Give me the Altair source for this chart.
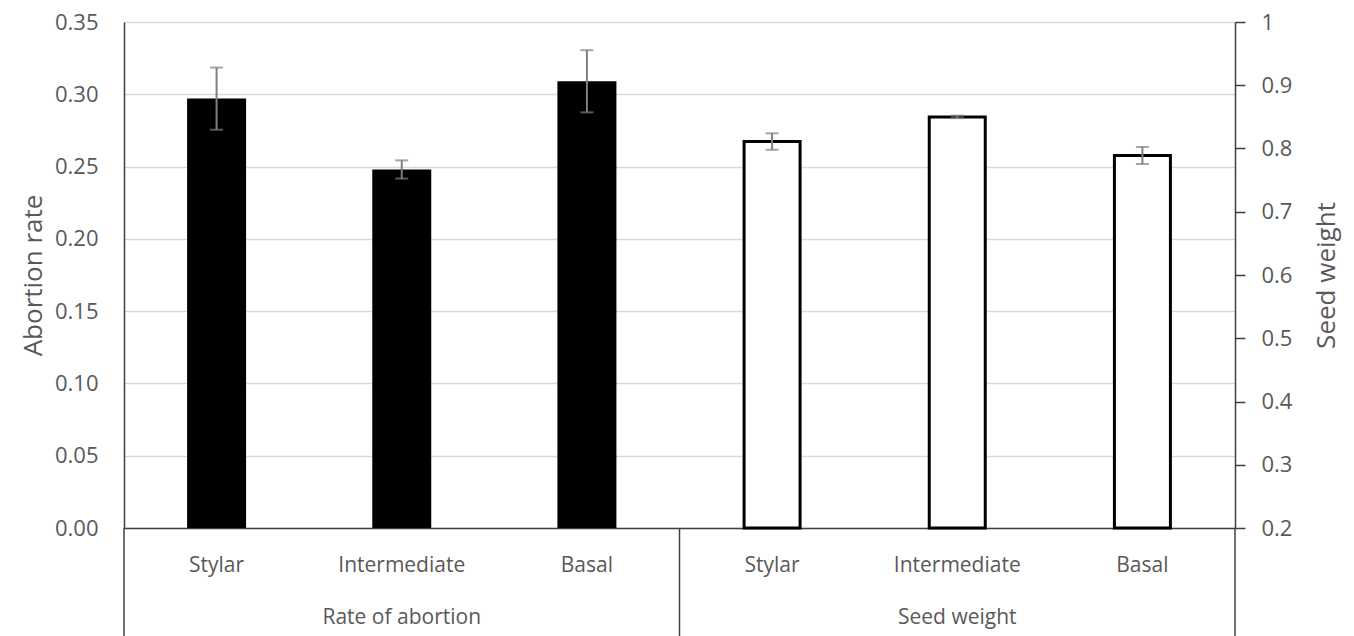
import altair as alt
import pandas as pd

categories = ["Stylar", "Intermediate", "Basal"]
groups = ["Rate of abortion", "Seed weight"]
abortion = [0.297, 0.248, 0.309]
abortion_se = [0.0215, 0.0063, 0.0215]
seed = [0.811, 0.850, 0.789]
seed_se = [0.013, 0.002, 0.0135]

left_ticks = [0.0, 0.05, 0.10, 0.15, 0.20, 0.25, 0.30, 0.35]
right_ticks = [0.2, 0.3, 0.4, 0.5, 0.6, 0.7, 0.8, 0.9, 1.0]

W, H = 1111, 506
FONT = "Open Sans"
GRAY = "#595959"

ab = pd.DataFrame({
    "cat": categories,
    "pos": [i + 0.5 for i in range(3)],
    "val": abortion,
    "lo": [v - s for v, s in zip(abortion, abortion_se)],
    "hi": [v + s for v, s in zip(abortion, abortion_se)],
})
sw = pd.DataFrame({
    "cat": categories,
    "pos": [i + 3.5 for i in range(3)],
    "val": seed,
    "base": [0.2] * 3,
    "lo": [v - s for v, s in zip(seed, seed_se)],
    "hi": [v + s for v, s in zip(seed, seed_se)],
})
cat_labels = pd.DataFrame({
    "label": categories * 2,
    "pos": [i + 0.5 for i in range(6)],
})
grp_labels = pd.DataFrame({"label": groups, "pos": [1.5, 4.5]})
dividers = pd.DataFrame({"pos": [0, 3, 6]})

xscale = alt.Scale(domain=[0, 6], nice=False, zero=False, padding=0)
xenc = alt.X("pos:Q", scale=xscale,
             axis=alt.Axis(labels=False, ticks=False, grid=False, title=None,
                           domainColor="#404040", domainWidth=1.5))

yl_scale = alt.Scale(domain=[0, 0.35], nice=False, padding=0)
yl_axis = alt.Axis(orient="left", values=left_ticks, format=".2f", ticks=False,
                   labelPadding=26, title="Abortion rate", titlePadding=8,
                   grid=True, gridColor="#d9d9d9", gridWidth=1.5,
                   domainColor="#404040", domainWidth=1.5)
yr_scale = alt.Scale(domain=[0.2, 1.0], nice=False, zero=False, padding=0)
yr_axis = alt.Axis(orient="right", values=right_ticks, format="~g", ticks=True,
                   tickSize=10, tickWidth=1.5, tickColor="#404040",
                   labelPadding=16, title="Seed weight", titlePadding=22,
                   titleAngle=270, titleBaseline="top", grid=False,
                   domainColor="#404040", domainWidth=1.5)

cap = dict(color="#7f7f7f", orient="horizontal", size=13, thickness=2)

ab_bars = alt.Chart(ab).mark_bar(color="black", width=59).encode(
    x=xenc,
    y=alt.Y("val:Q", scale=yl_scale, axis=yl_axis),
)
ab_err = alt.Chart(ab).mark_rule(color="#7f7f7f", strokeWidth=2).encode(
    x=alt.X("pos:Q", scale=xscale), y=alt.Y("lo:Q"), y2="hi:Q")
ab_cap_lo = alt.Chart(ab).mark_tick(**cap).encode(
    x=alt.X("pos:Q", scale=xscale), y=alt.Y("lo:Q"))
ab_cap_hi = alt.Chart(ab).mark_tick(**cap).encode(
    x=alt.X("pos:Q", scale=xscale), y=alt.Y("hi:Q"))
left = alt.layer(ab_bars, ab_err, ab_cap_lo, ab_cap_hi)

sw_bars = alt.Chart(sw).mark_bar(fill="white", stroke="black", strokeWidth=3, width=56).encode(
    x=alt.X("pos:Q", scale=xscale),
    y=alt.Y("val:Q", scale=yr_scale, axis=yr_axis),
    y2="base:Q",
)
sw_err = alt.Chart(sw).mark_rule(color="#7f7f7f", strokeWidth=2).encode(
    x=alt.X("pos:Q", scale=xscale), y=alt.Y("lo:Q"), y2="hi:Q")
sw_cap_lo = alt.Chart(sw).mark_tick(**cap).encode(
    x=alt.X("pos:Q", scale=xscale), y=alt.Y("lo:Q"))
sw_cap_hi = alt.Chart(sw).mark_tick(**cap).encode(
    x=alt.X("pos:Q", scale=xscale), y=alt.Y("hi:Q"))
right = alt.layer(sw_bars, sw_err, sw_cap_lo, sw_cap_hi)

cat_text = alt.Chart(cat_labels).mark_text(
    font=FONT, fontSize=21, color=GRAY, baseline="middle", align="center"
).encode(x=alt.X("pos:Q", scale=xscale), y=alt.value(H + 38), text="label:N")
grp_text = alt.Chart(grp_labels).mark_text(
    font=FONT, fontSize=21, color=GRAY, baseline="middle", align="center"
).encode(x=alt.X("pos:Q", scale=xscale), y=alt.value(H + 90), text="label:N")
div_rules = alt.Chart(dividers).mark_rule(color="#404040", strokeWidth=1.5).encode(
    x=alt.X("pos:Q", scale=xscale), y=alt.value(H), y2=alt.value(H + 110))

chart = alt.layer(left, right, cat_text, grp_text, div_rules).resolve_scale(
    y="independent"
).properties(
    width=W, height=H,
    autosize=alt.AutoSizeParams(type="none"),
    padding={"left": 116, "top": 14, "right": 111, "bottom": 108},
    background="white",
).configure_view(stroke=None).configure_axis(
    labelFont=FONT, labelFontSize=22, labelColor=GRAY,
    titleFont=FONT, titleFontSize=26, titleFontWeight="normal", titleColor=GRAY,
)

chart.save("out.html", embed_options={"renderer": "svg", "actions": False})
